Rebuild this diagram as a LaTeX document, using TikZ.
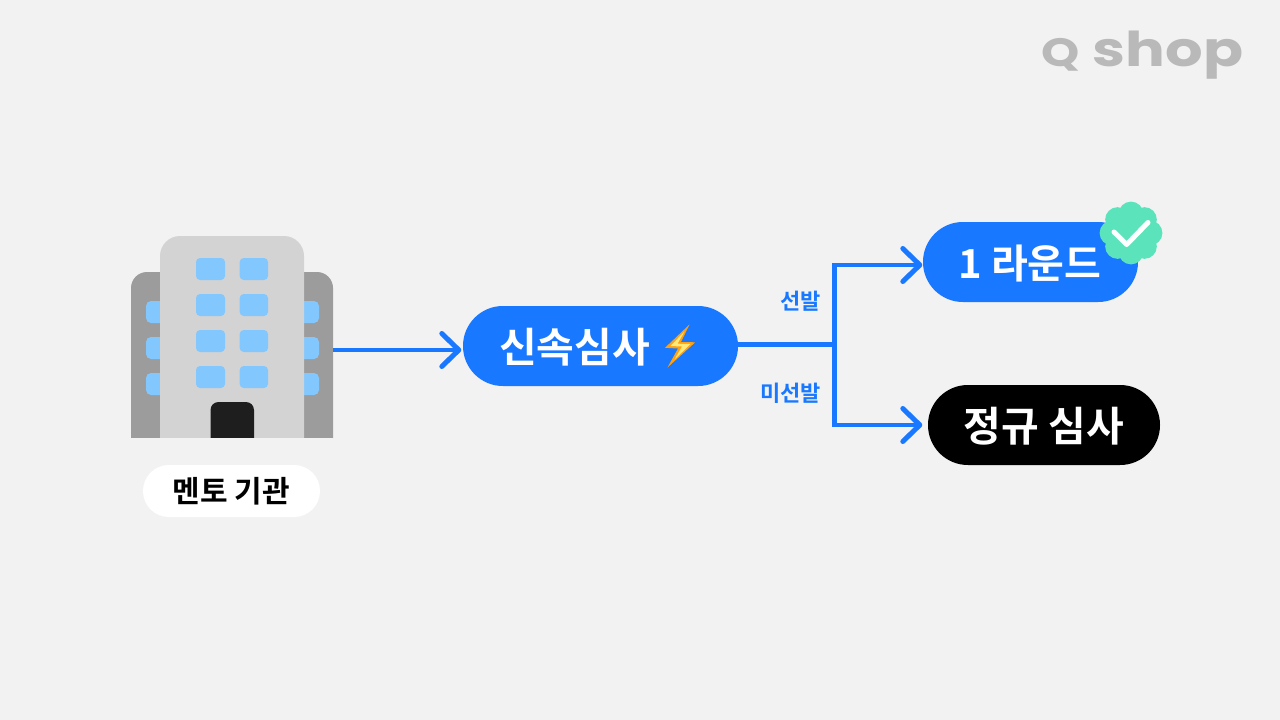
\documentclass[tikz,border=0pt]{standalone}
\usepackage{fontspec}
\setmainfont{Noto Sans CJK KR}[BoldFont={Noto Sans CJK KR Bold}]
\newfontfamily\logofont{Poppins Bold}
\usetikzlibrary{arrows.meta}
\definecolor{bg}{HTML}{F2F2F2}
\definecolor{qblue}{HTML}{1878FF}
\definecolor{winblue}{HTML}{82C8FF}
\definecolor{wing}{HTML}{9C9C9C}
\definecolor{tower}{HTML}{D3D3D3}
\definecolor{doorc}{HTML}{1E1E1E}
\definecolor{mint}{HTML}{5BE4BC}
\definecolor{logoc}{HTML}{B9B9B9}
\definecolor{boltout}{HTML}{FFA010}
\definecolor{boltin}{HTML}{FFE97A}
\tikzset{
  pill/.style={rounded corners=39.9pt,minimum height=80pt,inner sep=0pt,anchor=center},
  pilltext/.style={inner sep=0pt,text=white,font=\bfseries\fontsize{#1}{#1}\selectfont},
  flow/.style={draw=qblue,line width=4.6pt,line join=miter,-{Straight Barb[length=17pt,width=33pt,round,line width=5pt]}},
  trunk/.style={draw=qblue,line width=4.6pt},
  win/.style={fill=winblue,rounded corners=4pt},
  sidewin/.style={fill=winblue,rounded corners=5pt},
  branchlabel/.style={text=qblue,font=\fontsize{22}{22}\selectfont\bfseries,anchor=east,inner sep=0pt},
}
\begin{document}
\begin{tikzpicture}[x=1pt,y=-1pt]
\useasboundingbox[fill=bg] (0,0) rectangle (1280,720);
% logo
\node[anchor=center,inner sep=0pt,text=logoc,font=\logofont\fontsize{48}{48}\selectfont,xscale=1.23] (logo) at (1142.5,55.5) {{\fontsize{39.5}{39.5}\selectfont Q} shop};
% building
\fill[wing,rounded corners=16pt] (131,460) -- (131,272) -- (333,272) -- (333,460) -- cycle;
\fill[bg] (125,438) rectangle (340,465);
\foreach \y in {301,337,373}{
  \fill[sidewin] (146,\y) rectangle (175,\y+22);
  \fill[sidewin] (290,\y) rectangle (319,\y+22);
}
\fill[tower,rounded corners=20pt] (160,460) -- (160,236) -- (304,236) -- (304,460) -- cycle;
\fill[bg] (125,438) rectangle (340,465);
\foreach \y in {258,294,330,366}{
  \fill[win] (196,\y) rectangle (225,\y+22);
  \fill[win] (239.7,\y) rectangle (268,\y+22);
}
\fill[doorc,rounded corners=8pt] (210.5,450) -- (210.5,402) -- (254,402) -- (254,450) -- cycle;
\fill[bg] (205,438) rectangle (260,455);
\coordinate (bldgout) at (333,350);
% label
\node[fill=white,rounded corners=25.9pt,minimum width=177pt,minimum height=52pt,inner sep=0pt,font=\bfseries\fontsize{30}{30}\selectfont,text=black] (mento) at (231.5,491) {멘토 기관};
% pills
\node[pill,fill=qblue,minimum width=275pt] (speed) at (600.5,346) {};
\node[pilltext=41] (speedt) at (574.5,347.5) {신속심사};
\node[pill,fill=qblue,minimum width=215pt] (round1) at (1030.5,262) {};
\node[pilltext=40] (round1t) at (1030,263.5) {1 라운드};
\node[pill,fill=black,minimum width=232pt] (regular) at (1044,425) {};
\node[pilltext=41] (regulart) at (1044,426) {정규 심사};
% bolt
\fill[boltout] (689.5,324.5) -- (665,347.8) -- (678,348.5) -- (667.5,367.5) -- (695.2,342.3) -- (681,342) -- cycle;
\fill[boltin] (684.5,331.5) -- (670.5,346) -- (682,346.5) -- (674.5,359.5) -- (690.5,344) -- (677.5,343.7) -- cycle;
% badge
\foreach \a in {0,45,...,315}{
  \fill[mint] (1131,233) ++(\a:19) circle (12.4);
}
\fill[mint] (1131,233) circle (20);
\draw[white,line width=5pt,line cap=round,line join=round] (1114,232) -- (1126.7,244.5) -- (1148,222.5);
% connectors
\coordinate (split) at (834.5,344.5);
\coordinate (r1in) at ([xshift=-0.5pt,yshift=-3pt]round1.west);
\coordinate (regin) at ([xshift=-5.5pt]regular.west);
\coordinate (speedin) at ([xshift=-1.5pt]speed.west |- bldgout);
\draw[flow] (bldgout) -- (speedin);
\draw[trunk] (speed.east |- split) -- (split);
\draw[flow] (split) |- (r1in);
\draw[flow] (split) |- (regin);
% branch labels
\node[branchlabel] (sel) at (821,301) {선발};
\node[branchlabel] (nosel) at (821,393.5) {미선발};
\end{tikzpicture}
\end{document}
